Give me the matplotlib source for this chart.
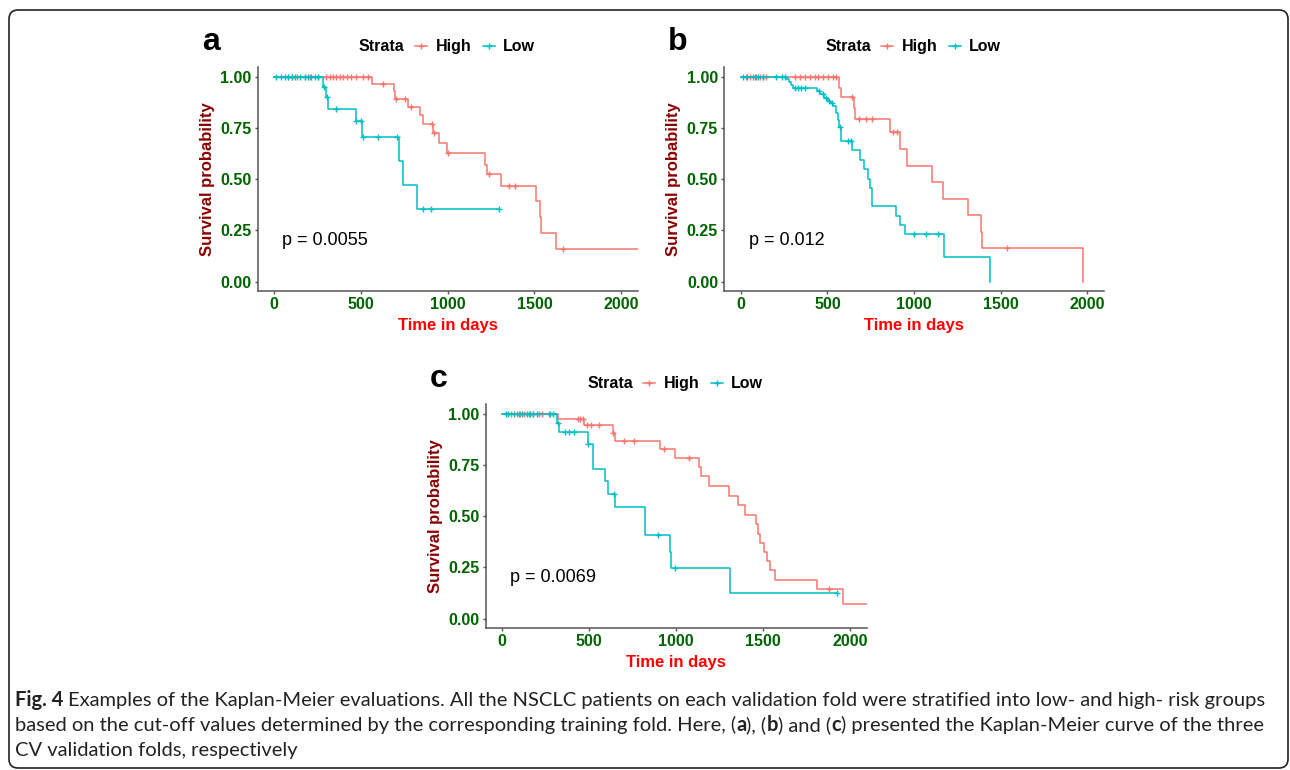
import numpy as np
import matplotlib.pyplot as plt
from matplotlib.lines import Line2D
from matplotlib.patches import FancyBboxPatch
from matplotlib.transforms import IdentityTransform

plt.rcParams['font.family'] = ['Liberation Sans', 'DejaVu Sans']

W, H = 1290, 770
HIGH_COLOR = '#F8766D'
LOW_COLOR = '#00BFC4'

x_ticks = [0, 500, 1000, 1500, 2000]
y_ticks = [0.0, 0.25, 0.5, 0.75, 1.0]
y_tick_labels = ['0.00', '0.25', '0.50', '0.75', '1.00']
strata = ['High', 'Low']

# panel a
a_high_time = [563, 690, 699, 770, 843, 856, 914, 952, 996, 1213, 1224, 1310, 1510, 1530, 1537, 1623]
a_high_surv = [0.967, 0.933, 0.892, 0.856, 0.816, 0.772, 0.726, 0.677, 0.628, 0.571, 0.525, 0.468,
               0.392, 0.315, 0.237, 0.158]
a_high_cens = [81, 100, 129, 177, 207, 253, 301, 321, 340, 359, 378, 397, 417, 445, 474, 512, 541,
               628, 704, 752, 791, 910, 920, 1000, 1236, 1353, 1386, 1662]
a_high_end = 2150
a_low_time = [282, 296, 312, 469, 508, 718, 745, 823]
a_low_surv = [0.952, 0.902, 0.846, 0.788, 0.706, 0.591, 0.473, 0.356]
a_low_cens = [13, 42, 61, 81, 100, 119, 148, 177, 196, 215, 234, 253, 290, 303, 358, 473, 502, 512,
              598, 709, 860, 904, 1293]
a_low_end = 1293
a_pval = 'p = 0.0055'

# panel b
b_high_time = [566, 581, 653, 658, 860, 918, 961, 1101, 1168, 1313, 1384, 1394, 1977]
b_high_surv = [0.950, 0.902, 0.850, 0.797, 0.731, 0.650, 0.568, 0.487, 0.406, 0.325, 0.244, 0.163, 0.0]
b_high_cens = [33, 52, 71, 90, 110, 129, 148, 312, 341, 370, 398, 427, 447, 475, 504, 533, 552,
               639, 681, 720, 755, 880, 903, 1534]
b_high_end = 1977
b_low_time = [263, 279, 292, 302, 441, 456, 481, 504, 516, 533, 549, 558, 566, 581, 643, 690, 708,
              735, 745, 757, 895, 920, 945, 1172, 1438]
b_low_surv = [0.990, 0.978, 0.964, 0.950, 0.932, 0.916, 0.901, 0.886, 0.872, 0.858, 0.826, 0.793,
              0.755, 0.686, 0.643, 0.597, 0.549, 0.500, 0.458, 0.368, 0.322, 0.279, 0.235, 0.118, 0.0]
b_low_cens = [13, 37, 81, 100, 129, 206, 235, 254, 312, 331, 350, 370, 452, 472, 491, 509, 528,
              572, 620, 633, 1001, 1068, 1140]
b_low_end = 1438
b_pval = 'p = 0.012'

# panel c
c_high_time = [320, 472, 637, 647, 906, 992, 1130, 1144, 1188, 1307, 1355, 1399, 1461, 1470, 1482,
               1505, 1524, 1539, 1572, 1810, 1962]
c_high_surv = [0.976, 0.946, 0.907, 0.871, 0.831, 0.788, 0.744, 0.697, 0.650, 0.602, 0.555, 0.508,
               0.462, 0.416, 0.372, 0.328, 0.283, 0.238, 0.189, 0.145, 0.073]
c_high_cens = [50, 84, 104, 127, 152, 180, 209, 228, 267, 434, 449, 464, 487, 512, 555, 640, 702,
               756, 933, 1073, 1879]
c_high_end = 2150
c_low_time = [318, 328, 491, 524, 589, 606, 651, 820, 966, 973, 1308]
c_low_surv = [0.956, 0.912, 0.855, 0.733, 0.672, 0.610, 0.545, 0.409, 0.327, 0.245, 0.127]
c_low_cens = [23, 31, 65, 94, 113, 142, 161, 180, 200, 276, 295, 322, 363, 382, 411, 496, 646, 894,
              996, 1925]
c_low_end = 1925
c_pval = 'p = 0.0069'

caption_lines = [
    [('Fig. 4', 'bold'),
     (' Examples of the Kaplan-Meier evaluations. All the NSCLC patients on each validation fold '
      'were stratified into low- and high- risk groups', 'normal')],
    [('based on the cut-off values determined by the corresponding training fold. Here, (', 'normal'),
     ('a', 'bold'), ('), (', 'normal'), ('b', 'bold'), (') and (', 'normal'), ('c', 'bold'),
     (') presented the Kaplan-Meier curve of the three', 'normal')],
    [('CV validation folds, respectively', 'normal')],
]

fig = plt.figure(figsize=(W / 100, H / 100), dpi=100)


def fx(x):
    return x / W


def fy(y):
    return 1 - y / H


def km_curve(times, surv, end):
    x = np.concatenate([[0], times, [end]])
    y = np.concatenate([[1.0], surv, [surv[-1]]])
    return x, y


def km_at(times, surv, t):
    levels = np.concatenate([[1.0], surv])
    return levels[np.searchsorted(times, t, side='right')]


def draw_panel(rect, letter, pval, curves):
    left, top, right, bottom = rect
    ax = fig.add_axes([fx(left), fy(bottom), (right - left) / W, (bottom - top) / H])
    for times, surv, cens, end, color in curves:
        x, y = km_curve(times, surv, end)
        ax.step(x, y, where='post', color=color, lw=1.1)
        ax.plot(cens, km_at(times, surv, cens), ls='none', marker='+', ms=5, mew=1, color=color)
    ax.set_xlim(-95, 2097)
    ax.set_ylim(-0.045, 1.05)
    ax.set_xticks(x_ticks)
    ax.set_yticks(y_ticks)
    ax.set_yticklabels(y_tick_labels)
    for s in ['top', 'right']:
        ax.spines[s].set_visible(False)
    for s in ['left', 'bottom']:
        ax.spines[s].set_color('#555555')
        ax.spines[s].set_linewidth(1.1)
    ax.tick_params(length=2.5, width=1, color='#555555', pad=2, labelsize=11.5,
                   labelcolor='darkgreen')
    for lab in ax.get_xticklabels() + ax.get_yticklabels():
        lab.set_fontweight('bold')
    ax.set_xlabel('Time in days', color='red', fontsize=12, fontweight='bold', labelpad=4)
    ax.set_ylabel('Survival probability', color='darkred', fontsize=12, fontweight='bold', labelpad=4)
    ax.text(45, 0.2, pval, fontsize=13, va='center', ha='left', color='black')

    # panel letter
    fig.text(fx(left - 47), fy(top - 17), letter, fontsize=23, fontweight='bold',
             ha='center', va='baseline')

    # legend on top
    cx = (left + right) / 2
    ly = top - 21
    fig.text(fx(cx - 89), fy(ly), 'Strata', fontsize=11.5, fontweight='bold', va='center')
    key_offsets = [-33, 35]
    label_offsets = [-12, 55]
    for name, color, ko, lo in zip(strata, [HIGH_COLOR, LOW_COLOR], key_offsets, label_offsets):
        fig.add_artist(Line2D([fx(cx + ko), fx(cx + ko + 12)], [fy(ly), fy(ly)],
                              transform=fig.transFigure, color=color, lw=1.1))
        fig.add_artist(Line2D([fx(cx + ko + 6)], [fy(ly)], transform=fig.transFigure,
                              color=color, marker='+', ms=5, mew=1))
        fig.text(fx(cx + lo), fy(ly), name, fontsize=11.5, fontweight='bold', va='center')
    return ax


draw_panel((257.7, 67.1, 638, 290.7), 'a', a_pval,
           [(a_high_time, a_high_surv, a_high_cens, a_high_end, HIGH_COLOR),
            (a_low_time, a_low_surv, a_low_cens, a_low_end, LOW_COLOR)])
draw_panel((724.3, 67.1, 1104.3, 290.7), 'b', b_pval,
           [(b_high_time, b_high_surv, b_high_cens, b_high_end, HIGH_COLOR),
            (b_low_time, b_low_surv, b_low_cens, b_low_end, LOW_COLOR)])
draw_panel((485.7, 404.1, 866.7, 627.7), 'c', c_pval,
           [(c_high_time, c_high_surv, c_high_cens, c_high_end, HIGH_COLOR),
            (c_low_time, c_low_surv, c_low_cens, c_low_end, LOW_COLOR)])

# rounded frame around the figure
frame = FancyBboxPatch((9, 2), 1279, 758, boxstyle='round,pad=0,rounding_size=9',
                       transform=IdentityTransform(), fill=False, ec='#222222', lw=1.2)
fig.add_artist(frame)

# caption with mixed weights
renderer = fig.canvas.get_renderer()
cap_family = ['Lato', 'DejaVu Sans']


def text_width(s, size, weight):
    t = fig.text(0, 0, s, fontsize=size, fontweight=weight, family=cap_family)
    w = t.get_window_extent(renderer).width
    t.remove()
    return w


def space_width(size, weight):
    return text_width('x x', size, weight) - text_width('xx', size, weight)


def line_width(pieces, size):
    total = 0
    for s, w in pieces:
        core = s.strip(' ')
        total += (text_width(core, size, w) if core else 0) + (len(s) - len(core)) * space_width(size, w)
    return total


base = 13.0
cap_size = base * 1247 / line_width(caption_lines[0], base)
baselines = [706, 731, 756]
for pieces, by in zip(caption_lines, baselines):
    x = 15.0
    sp = space_width(cap_size, 'normal')
    for s, w in pieces:
        core = s.strip(' ')
        x += (len(s) - len(s.lstrip(' '))) * sp
        if core:
            fig.text(fx(x), fy(by), core, fontsize=cap_size, fontweight=w, family=cap_family,
                     color='#222222', va='baseline')
            x += text_width(core, cap_size, w)
            x += (len(s) - len(s.rstrip(' '))) * sp

fig.savefig('out.png', dpi=100)
